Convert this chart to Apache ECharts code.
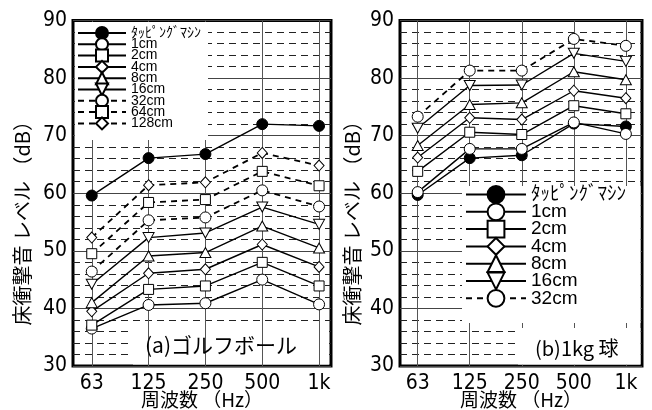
<!DOCTYPE html>
<html>
<head>
<meta charset="utf-8">
<script src="https://cdn.jsdelivr.net/npm/echarts@6/dist/echarts.min.js"></script>
<style>
html, body { margin: 0; padding: 0; background: #fff; }
#chart { width: 652px; height: 410px; }
</style>
</head>
<body>
<div id="chart"></div>
<script>
// Octave-band centre frequencies
const freqLabels = ['63', '125', '250', '500', '1k'];

// (a) golf ball dropped from each height, plus the tapping machine
const golfTapping = [59.6, 66.1, 66.8, 72.0, 71.7];
const golf1cm   = [36.5, 40.6, 40.9, 45.0, 40.7];
const golf2cm   = [37.1, 43.3, 43.9, 48.0, 43.9];
const golf4cm   = [39.5, 46.1, 46.8, 51.1, 47.2];
const golf8cm   = [41.0, 49.1, 49.7, 54.3, 50.5];
const golf16cm  = [44.2, 52.3, 53.1, 57.6, 54.6];
const golf32cm  = [46.4, 55.3, 55.8, 60.5, 57.7];
const golf64cm  = [49.5, 58.4, 58.9, 63.8, 61.3];
const golf128cm = [52.3, 61.4, 61.9, 67.0, 64.8];

// (b) 1 kg ball dropped from each height, plus the tapping machine
const ballTapping = [59.7, 66.1, 66.6, 72.1, 71.6];
const ball1cm  = [60.2, 67.7, 67.7, 72.3, 70.3];
const ball2cm  = [63.8, 70.6, 70.2, 75.2, 73.8];
const ball4cm  = [66.2, 73.1, 72.8, 77.8, 76.5];
const ball8cm  = [68.3, 75.4, 75.7, 81.1, 79.7];
const ball16cm = [71.3, 78.7, 78.8, 84.3, 82.9];
const ball32cm = [73.3, 81.3, 81.3, 86.8, 85.6];

const TAP = 'ﾀｯﾋﾟﾝｸﾞﾏｼﾝ';
const golfNames = [TAP, '1cm', '2cm', '4cm', '8cm', '16cm', '32cm', '64cm', '128cm'];
const golfData  = [golfTapping, golf1cm, golf2cm, golf4cm, golf8cm, golf16cm, golf32cm, golf64cm, golf128cm];
const ballNames = [TAP, '1cm', '2cm', '4cm', '8cm', '16cm', '32cm'];
const ballData  = [ballTapping, ball1cm, ball2cm, ball4cm, ball8cm, ball16cm, ball32cm];

const NUM_FONT = "'Liberation Sans Narrow', 'DejaVu Sans Condensed', 'Liberation Sans', sans-serif";
const JP_FONT = "'Noto Sans CJK JP', 'Noto Sans', sans-serif";

// marker shape / line look for each drop height
const looks = {
  [TAP]:   { symbol: 'circle',   fill: '#000', dashed: false, size: 11 },
  '1cm':   { symbol: 'circle',   fill: '#fff', dashed: false, size: 11 },
  '2cm':   { symbol: 'rect',     fill: '#fff', dashed: false, size: 10 },
  '4cm':   { symbol: 'diamond',  fill: '#fff', dashed: false, size: [10, 11] },
  '8cm':   { symbol: 'triangle', fill: '#fff', dashed: false, size: [11, 10] },
  '16cm':  { symbol: 'triangle', fill: '#fff', dashed: false, size: [11, 10], rotate: 180 },
  '32cm':  { symbol: 'circle',   fill: '#fff', dashed: true,  size: 11 },
  '64cm':  { symbol: 'rect',     fill: '#fff', dashed: true,  size: 10 },
  '128cm': { symbol: 'diamond',  fill: '#fff', dashed: true,  size: [10, 11] }
};

function makeSeries(name, values, gi) {
  const lk = looks[name];
  return {
    name: name,
    type: 'line',
    xAxisIndex: gi,
    yAxisIndex: gi,
    data: values.map((v, i) => [i, v]),
    symbol: lk.symbol,
    symbolSize: lk.size,
    symbolRotate: lk.rotate || 0,
    showAllSymbol: true,
    z: 3,
    lineStyle: { color: '#000', width: lk.dashed ? 1.8 : 1.4, type: lk.dashed ? [6, 5] : 'solid' },
    itemStyle: { color: lk.fill, borderColor: '#000', borderWidth: 1 },
    emphasis: { disabled: true },
    animation: false
  };
}

// vertical guide lines at each frequency band
function bandLines(gi) {
  return {
    type: 'line',
    xAxisIndex: gi,
    yAxisIndex: gi,
    data: [],
    silent: true,
    animation: false,
    markLine: {
      z: 2,
      silent: true,
      symbol: ['none', 'none'],
      label: { show: false },
      animation: false,
      lineStyle: { color: '#555', width: 1, type: 'solid' },
      emphasis: { disabled: true },
      data: freqLabels.map((_, i) => ({ xAxis: i }))
    }
  };
}

function xAxisFor(gi, min, max) {
  return {
    type: 'value',
    gridIndex: gi,
    min: min,
    max: max,
    axisLine: { show: false },
    axisTick: { show: false },
    splitLine: { show: false },
    axisLabel: {
      customValues: [0, 1, 2, 3, 4],
      formatter: v => freqLabels[Math.round(v)],
      color: '#000',
      fontSize: 21,
      fontFamily: NUM_FONT,
      margin: 7
    },
    name: '周波数 （Hz）',
    nameLocation: 'middle',
    nameGap: 24,
    nameMoveOverlap: false,
    nameTextStyle: { color: '#000', fontSize: 19, lineHeight: 19, fontFamily: JP_FONT }
  };
}

function yAxisFor(gi, gap) {
  return {
    type: 'value',
    gridIndex: gi,
    min: 30,
    max: 90,
    interval: 10,
    axisLine: { show: false },
    axisTick: { show: false },
    minorTick: { show: false, splitNumber: 5 },
    splitLine: { show: true, lineStyle: { color: '#444', width: 1 } },
    minorSplitLine: { show: true, lineStyle: { color: '#222', width: 1, type: [7, 5] } },
    axisLabel: { color: '#000', fontSize: 21, fontFamily: NUM_FONT, margin: 6 },
    name: '床衝撃音 レベル （dB）',
    nameLocation: 'middle',
    nameGap: gap,
    nameMoveOverlap: false,
    nameTextStyle: { color: '#000', fontSize: 20, fontFamily: JP_FONT, padding: [0, 50, 0, 0] }
  };
}

const frame = {
  show: true, borderColor: '#000', borderWidth: 3, backgroundColor: 'transparent',
  containLabel: false, outerBoundsMode: 'none'
};

const option = {
  animation: false,
  backgroundColor: '#fff',
  grid: [
    Object.assign({ left: 73, right: 321, top: 20.5, bottom: 44 }, frame),
    Object.assign({ left: 400, right: 10, top: 20.5, bottom: 44 }, frame)
  ],
  xAxis: [xAxisFor(0, -0.33, 4.21), xAxisFor(1, -0.34, 4.31)],
  yAxis: [yAxisFor(0, 41), yAxisFor(1, 38)],
  legend: [
    {
      orient: 'vertical',
      left: 77,
      top: 26,
      padding: 0,
      itemWidth: 48,
      itemHeight: 15,
      itemGap: -2.7,
      selectedMode: false,
      data: golfNames,
      textStyle: { color: '#000', fontSize: 14, lineHeight: 12, fontFamily: "'Liberation Sans', " + JP_FONT }
    },
    {
      orient: 'vertical',
      left: 465,
      top: 185,
      padding: 0,
      itemWidth: 60,
      itemHeight: 21,
      itemGap: -1.7,
      selectedMode: false,
      data: ballNames,
      textStyle: { color: '#000', fontSize: 19, lineHeight: 19, fontFamily: "'Liberation Sans', " + JP_FONT }
    }
  ],
  graphic: [
    // white panels behind the legends and panel captions
    { type: 'rect', z: 3, silent: true, shape: { x: 75, y: 22, width: 133, height: 118 }, style: { fill: '#fff' } },
    { type: 'rect', z: 1, silent: true, shape: { x: 133, y: 327, width: 196, height: 37.5 }, style: { fill: '#fff' } },
    { type: 'rect', z: 3, silent: true, shape: { x: 462, y: 186, width: 178.5, height: 137 }, style: { fill: '#fff' } },
    { type: 'rect', z: 3, silent: true, shape: { x: 518, y: 328, width: 122.5, height: 36.5 }, style: { fill: '#fff' } },
    { type: 'text', z: 4, silent: true, left: 145, top: 335,
      style: { text: '(a)ゴルフボール', fill: '#000', fontSize: 21, fontFamily: JP_FONT } },
    { type: 'text', z: 4, silent: true, left: 535, top: 338,
      style: { text: '(b)1kg 球', fill: '#000', fontSize: 20, fontFamily: JP_FONT } }
  ],
  series: [
    bandLines(0),
    bandLines(1),
    ...golfNames.map((n, k) => makeSeries(n, golfData[k], 0)),
    ...ballNames.map((n, k) => makeSeries(n, ballData[k], 1))
  ]
};

const chart = echarts.init(document.getElementById('chart'), null, { renderer: 'canvas' });
chart.setOption(option);
</script>
</body>
</html>
